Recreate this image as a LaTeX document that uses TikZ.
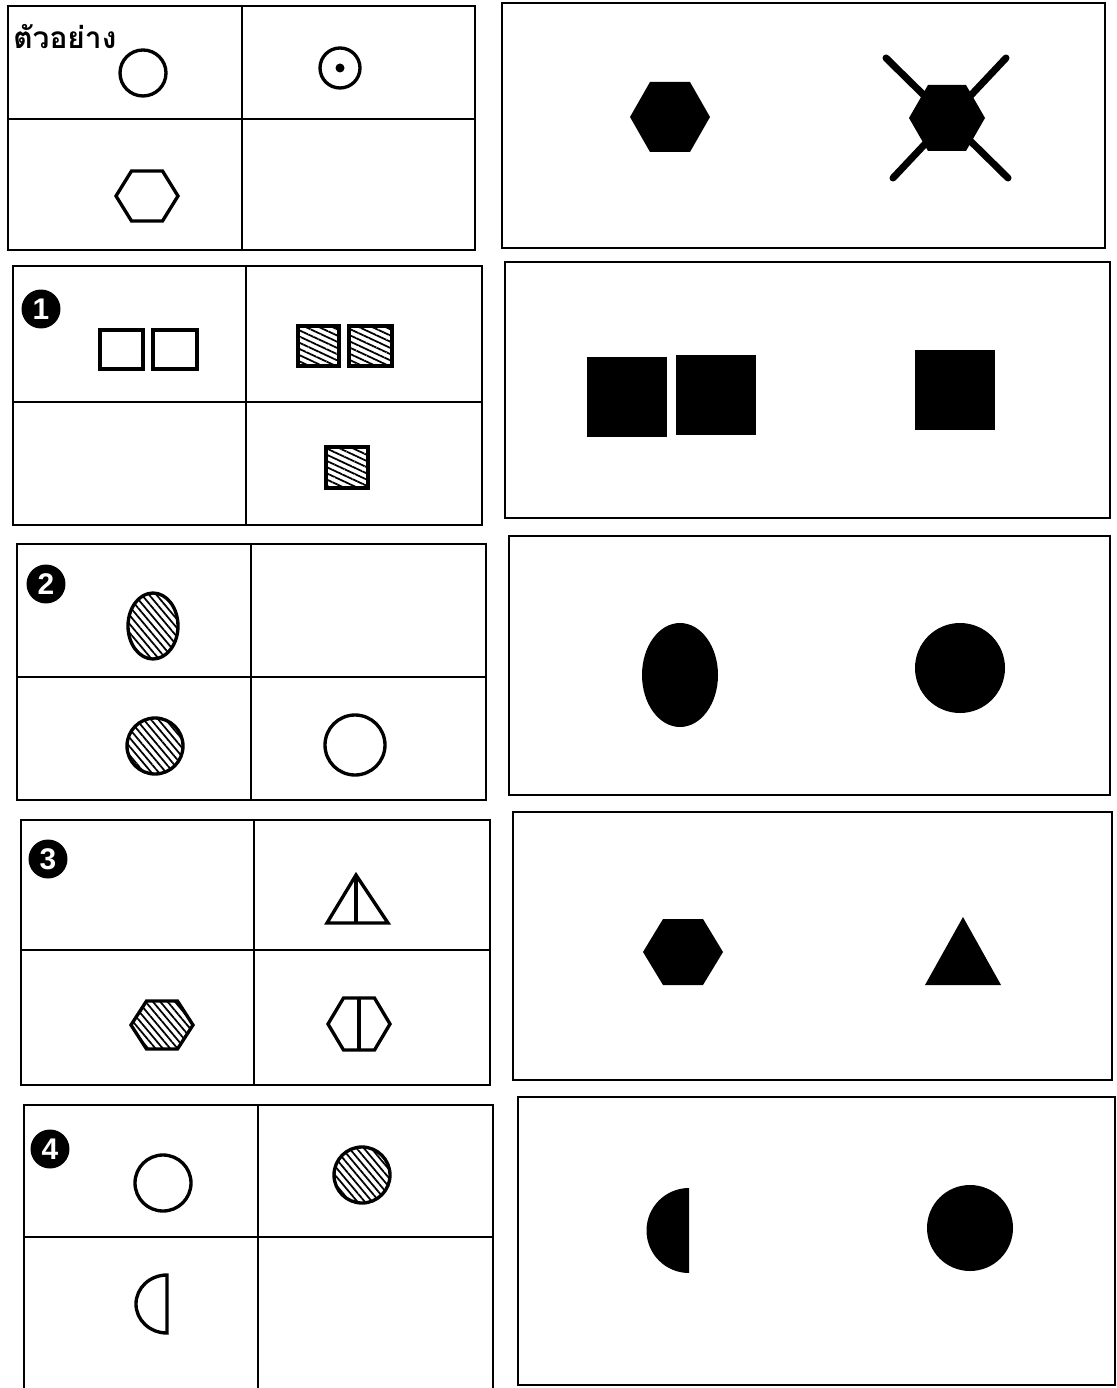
\documentclass[tikz,border=0pt]{standalone}
\usepackage{fontspec}
\setmainfont{Liberation Sans}
\newfontfamily\thaifont[Script=Thai]{Loma}
\usepackage{tikz}
\usetikzlibrary{patterns.meta}
% flat-top hexagon: centre x, centre y, half width, half height
\newcommand{\hexa}[4]{(#1-#3,#2) -- (#1-#3/2,#2-#4) -- (#1+#3/2,#2-#4) -- (#1+#3,#2) -- (#1+#3/2,#2+#4) -- (#1-#3/2,#2+#4) -- cycle}
\tikzset{
  frame/.style={draw, line width=1pt},
  figline/.style={draw, line width=1.9pt},
  hatched/.style={figline, pattern={Lines[angle=#1, distance=3.2pt, line width=1pt]}},
  hatched/.default=-50,
  inked/.style={fill=black},
  numdot/.style={circle, fill=black, text=white, minimum size=0.78cm, inner sep=0pt, font=\bfseries\fontsize{17}{17}\selectfont},
}

\begin{document}
\begin{tikzpicture}[x=0.02cm, y=-0.02cm]
  \useasboundingbox (0,0) rectangle (1116,1388);

  % example row
  \draw[frame] (8,6) rectangle (475,250);
  \draw[frame] (242,6) -- (242,250);
  \draw[frame] (8,119) -- (475,119);
  \node[anchor=base west, inner sep=0pt, font=\thaifont\bfseries\fontsize{17}{17}\selectfont] (sample) at (13,49) {ตัวอย่าง};
  \draw[figline] (143,73) circle (23);
  \draw[figline] (340,68) circle (20);
  \fill (340,68) circle (4.5);
  \draw[figline] \hexa{147}{196}{31}{25};
  \draw[frame] (502,3) rectangle (1105,248);
  \fill[inked] \hexa{670}{117}{40}{35};
  \fill[inked] \hexa{947}{118}{38}{33};
  \draw[line width=4pt, line cap=round] (886,58) -- (1008,178);
  \draw[line width=4pt, line cap=round] (1006,58) -- (893,178);

  % question 1
  \draw[frame] (13,266) rectangle (482,525);
  \draw[frame] (246,266) -- (246,525);
  \draw[frame] (13,402) -- (482,402);
  \node[numdot] (n1) at (41,309) {1};
  \draw[figline] (100,330) rectangle (143,369);
  \draw[figline] (153,330) rectangle (197,369);
  \draw[hatched=-25] (298,326) rectangle (339,366);
  \draw[hatched=-25] (349,326) rectangle (392,366);
  \draw[hatched=-25] (326,447) rectangle (368,488);
  \draw[frame] (505,262) rectangle (1110,518);
  \fill[inked] (587,357) rectangle (667,437);
  \fill[inked] (676,355) rectangle (756,435);
  \fill[inked] (915,350) rectangle (995,430);

  % question 2
  \draw[frame] (17,544) rectangle (486,800);
  \draw[frame] (251,544) -- (251,800);
  \draw[frame] (17,677) -- (486,677);
  \node[numdot] (n2) at (46,584) {2};
  \draw[hatched] (153,626) ellipse (25 and 33);
  \draw[hatched] (155,746) circle (28);
  \draw[figline] (355,745) circle (30);
  \draw[frame] (509,536) rectangle (1110,795);
  \fill[inked] (680,675) ellipse (38 and 52);
  \fill[inked] (960,668) circle (45);

  % question 3
  \draw[frame] (21,820) rectangle (490,1085);
  \draw[frame] (254,820) -- (254,1085);
  \draw[frame] (21,950) -- (490,950);
  \node[numdot] (n3) at (48,859) {3};
  \draw[figline] (356,875) -- (388,923) -- (327,923) -- cycle;
  \draw[figline] (356,875) -- (356,923);
  \draw[hatched] \hexa{162}{1025}{31}{24};
  \draw[figline] \hexa{359}{1024}{31}{26};
  \draw[figline] (359,998) -- (359,1050);
  \draw[frame] (513,812) rectangle (1112,1080);
  \fill[inked] \hexa{683}{952}{40}{33};
  \fill[inked] (963,917) -- (1001,985) -- (925,985) -- cycle;

  % question 4
  \draw[frame] (24,1388) -- (24,1105) -- (493,1105) -- (493,1388);
  \draw[frame] (258,1105) -- (258,1388);
  \draw[frame] (24,1237) -- (493,1237);
  \node[numdot] (n4) at (50,1149) {4};
  \draw[figline] (163,1183) circle (28);
  \draw[hatched] (362,1175) circle (28);
  \draw[figline] (167,1275) arc[start angle=-90, end angle=-270, x radius=31, y radius=29] -- cycle;
  \draw[frame] (518,1097) rectangle (1115,1385);
  \fill[inked] (689,1188) arc[start angle=-90, end angle=-270, radius=42.5] -- cycle;
  \fill[inked] (970,1228) circle (43);
\end{tikzpicture}
\end{document}
